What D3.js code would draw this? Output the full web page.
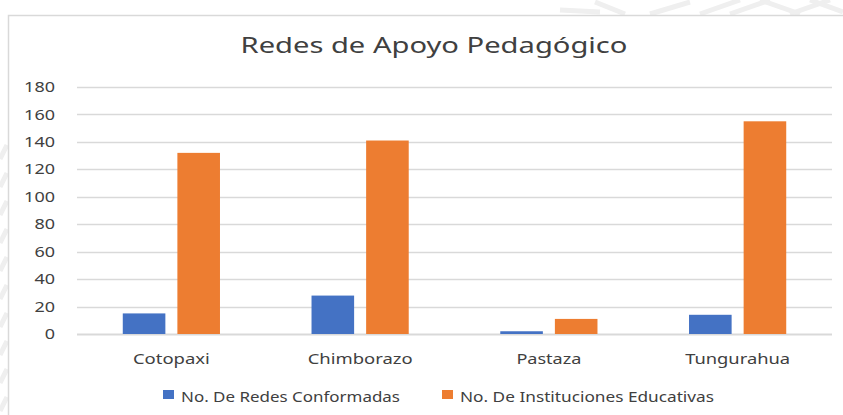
<!DOCTYPE html>
<html>
<head>
<meta charset="utf-8">
<script src="https://cdn.jsdelivr.net/npm/d3@7"></script>
<style>
  html, body { margin: 0; padding: 0; background: #fff; }
  svg { display: block; font-family: "Noto Sans", sans-serif; }
</style>
</head>
<body>
<div id="chart"></div>
<script>
// data
const categories = ['Cotopaxi', 'Chimborazo', 'Pastaza', 'Tungurahua'];
const seriesNames = ['No. De Redes Conformadas', 'No. De Instituciones Educativas'];
const redes = [15, 28, 2, 14];
const instituciones = [132, 141, 11, 155];
const yTicks = [0, 20, 40, 60, 80, 100, 120, 140, 160, 180];
const colors = ['#4472c4', '#ed7d31'];

const width = 843, height = 415;
const margin = { left: 77, right: 11, top: 87, bottom: 81 };

// widths the texts take in the picture (it is stretched sideways)
const catWidths = [77, 105, 65, 105];
const legendWidths = [219, 254];
const digitWidth = 10.3;

const svg = d3.select('#chart').append('svg')
  .attr('width', width)
  .attr('height', height);

// faint background pattern around the chart box
const deco = svg.append('g').attr('stroke', '#efefef').attr('stroke-width', 5).attr('fill', 'none');
[[595, 2, 625, 14], [650, 14, 690, 2], [700, 14, 740, 0], [730, 14, 770, 0], [760, 0, 800, 14],
 [790, 14, 830, 0], [810, 0, 843, 12], [560, 10, 600, 12]].forEach(d => {
  deco.append('line').attr('x1', d[0]).attr('y1', d[1]).attr('x2', d[2]).attr('y2', d[3]);
});
for (let y = 145; y < 415; y += 28) {
  deco.append('line').attr('x1', 0).attr('y1', y + 14).attr('x2', 7).attr('y2', y);
}

// chart box
svg.append('rect')
  .attr('x', 8.5).attr('y', 15.5)
  .attr('width', 880).attr('height', 420)
  .attr('fill', '#fff')
  .attr('stroke', '#d9d9d9')
  .attr('stroke-width', 1.5);

const x0 = d3.scaleBand()
  .domain(categories)
  .range([margin.left, width - margin.right])
  .paddingInner(0.485)
  .paddingOuter(0.2425);

const x1 = d3.scaleBand()
  .domain([0, 1])
  .range([0, x0.bandwidth()])
  .paddingInner(0.22);

const y = d3.scaleLinear()
  .domain([0, 180])
  .range([height - margin.bottom, margin.top]);

// gridlines
svg.append('g')
  .selectAll('line')
  .data(yTicks)
  .join('line')
  .attr('x1', margin.left)
  .attr('x2', width - margin.right)
  .attr('y1', d => Math.round(y(d)) + 0.5)
  .attr('y2', d => Math.round(y(d)) + 0.5)
  .attr('stroke', '#d9d9d9')
  .attr('stroke-width', d => d === 0 ? 2 : 1.3);

// y axis labels
const yAxis = svg.append('g')
  .attr('transform', `translate(${margin.left},0)`)
  .call(d3.axisLeft(y).tickValues(yTicks).tickSize(0).tickPadding(22));
yAxis.select('.domain').remove();
yAxis.selectAll('text')
  .attr('font-family', '"Noto Sans", sans-serif')
  .attr('font-size', 14.5)
  .attr('fill', '#404040')
  .attr('textLength', d => String(d).length * digitWidth)
  .attr('lengthAdjust', 'spacingAndGlyphs');

// bars
const groups = svg.append('g')
  .selectAll('g')
  .data(categories)
  .join('g')
  .attr('transform', d => `translate(${x0(d)},0)`);

groups.selectAll('rect')
  .data((d, i) => [redes[i], instituciones[i]])
  .join('rect')
  .attr('x', (d, j) => x1(j))
  .attr('width', x1.bandwidth())
  .attr('y', d => y(d))
  .attr('height', d => y(0) - y(d))
  .attr('fill', (d, j) => colors[j]);

// category labels
svg.append('g')
  .selectAll('text')
  .data(categories)
  .join('text')
  .attr('x', d => x0(d) + x0.bandwidth() / 2)
  .attr('y', y(0) + 30)
  .attr('text-anchor', 'middle')
  .attr('font-size', 15)
  .attr('fill', '#404040')
  .attr('textLength', (d, i) => catWidths[i])
  .attr('lengthAdjust', 'spacingAndGlyphs')
  .text(d => d);

// title
svg.append('text')
  .attr('x', 434)
  .attr('y', 53)
  .attr('text-anchor', 'middle')
  .attr('font-size', 22)
  .attr('fill', '#404040')
  .attr('textLength', 387)
  .attr('lengthAdjust', 'spacingAndGlyphs')
  .text('Redes de Apoyo Pedagógico');

// legend
const legendX = [163, 442];
const legend = svg.append('g')
  .selectAll('g')
  .data(seriesNames)
  .join('g')
  .attr('transform', (d, i) => `translate(${legendX[i]},390)`);
legend.append('rect')
  .attr('width', 11).attr('height', 9)
  .attr('fill', (d, i) => colors[i]);
legend.append('text')
  .attr('x', 18)
  .attr('y', 11.5)
  .attr('font-size', 15)
  .attr('fill', '#404040')
  .attr('textLength', (d, i) => legendWidths[i])
  .attr('lengthAdjust', 'spacingAndGlyphs')
  .text(d => d);
</script>
</body>
</html>
